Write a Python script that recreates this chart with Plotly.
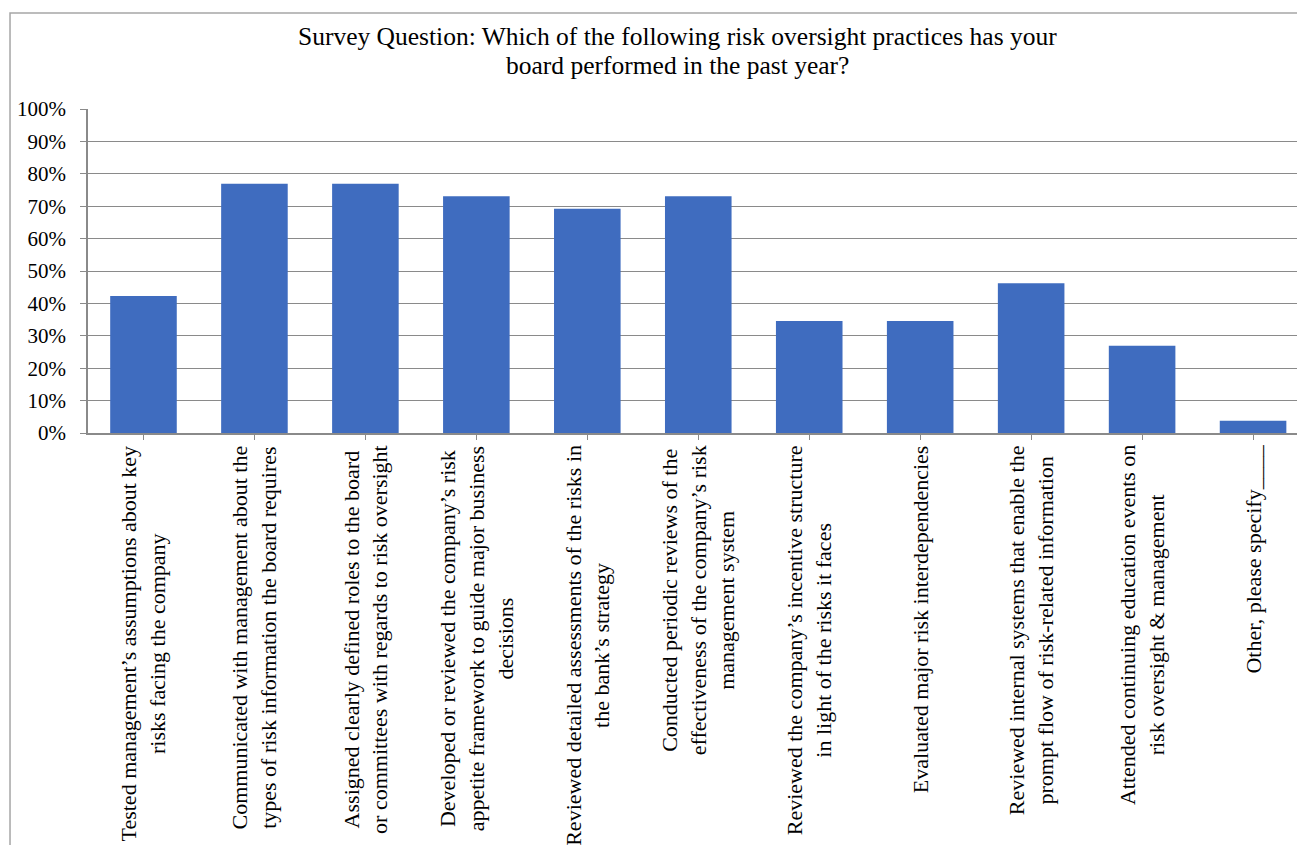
import plotly.graph_objects as go

categories = [
    "Tested management’s assumptions about key<br>risks facing the company",
    "Communicated with management about the<br>types of risk information the board requires",
    "Assigned clearly defined roles to the board<br>or committees with regards to risk oversight",
    "Developed or reviewed the company’s risk<br>appetite framework to guide major business<br>decisions",
    "Reviewed detailed assessments of the risks in<br>the bank’s strategy",
    "Conducted periodic reviews of the<br>effectiveness of the company’s risk<br>management system",
    "Reviewed the company’s incentive structure<br>in light of the risks it faces",
    "Evaluated major risk interdependencies",
    "Reviewed internal systems that enable the<br>prompt flow of risk-related information",
    "Attended continuing education events on<br>risk oversight &amp; management",
    "Other, please specify____",
]
values = [0.423, 0.769, 0.769, 0.731, 0.692, 0.731, 0.346, 0.346, 0.462, 0.269, 0.038]
y_ticks = [0, 0.1, 0.2, 0.3, 0.4, 0.5, 0.6, 0.7, 0.8, 0.9, 1.0]
y_ticktext = ["0%", "10%", "20%", "30%", "40%", "50%", "60%", "70%", "80%", "90%", "100%"]
title_lines = [
    "Survey Question: Which of the following risk oversight practices has your",
    "board performed in the past year?",
]

FONT = "Liberation Serif"
GRID = "#8a8a8a"
x_idx = list(range(len(categories)))

fig = go.Figure()
fig.add_trace(go.Bar(
    x=x_idx, y=values,
    marker=dict(color="#3F6CBF", line=dict(width=0)),
    hoverinfo="skip",
))

for i, lab in zip(x_idx, categories):
    fig.add_annotation(
        x=i, y=0, xref="x", yref="paper",
        text=lab, textangle=-90, showarrow=False,
        xanchor="center", yanchor="top", yshift=-10, align="center",
        font=dict(family=FONT, size=22, color="#000000"),
    )

# title lines, positioned as in the original (centre of each text line)
for line, ypos in zip(title_lines, [1.2253, 1.1358]):
    fig.add_annotation(
        x=0.488, y=ypos, xref="paper", yref="paper",
        text=line, showarrow=False, xanchor="center", yanchor="middle",
        font=dict(family=FONT, size=25.5, color="#000000"),
    )

fig.add_shape(
    type="rect", xref="paper", yref="paper",
    x0=-0.0645, x1=1.2, y0=-1.6, y1=1.296,
    line=dict(color="#a6a6a6", width=1.5), fillcolor="rgba(0,0,0,0)",
    layer="below",
)

fig.update_layout(
    width=1297, height=845,
    margin=dict(l=88, r=0, t=109, b=412, autoexpand=False),
    paper_bgcolor="white", plot_bgcolor="white",
    bargap=0.4, showlegend=False,
    font=dict(family=FONT, color="#000000"),
)
fig.update_xaxes(
    range=[-0.5, 10.396], showticklabels=False,
    tickmode="array", tickvals=x_idx,
    ticks="outside", ticklen=5, tickcolor=GRID, tickwidth=1,
    showline=True, linecolor=GRID, linewidth=1.5,
    showgrid=False, zeroline=False, fixedrange=True,
)
fig.update_yaxes(
    range=[0, 1.0], tickmode="array", tickvals=y_ticks, ticktext=y_ticktext,
    ticks="outside", ticklen=6, tickcolor=GRID, tickwidth=1,
    ticklabelstandoff=10,
    showline=True, linecolor=GRID, linewidth=1.5,
    showgrid=True, gridcolor=GRID, gridwidth=1.2,
    zeroline=False, tickfont=dict(family=FONT, size=21, color="#000000"),
    fixedrange=True,
)

fig.write_html("out.html")
